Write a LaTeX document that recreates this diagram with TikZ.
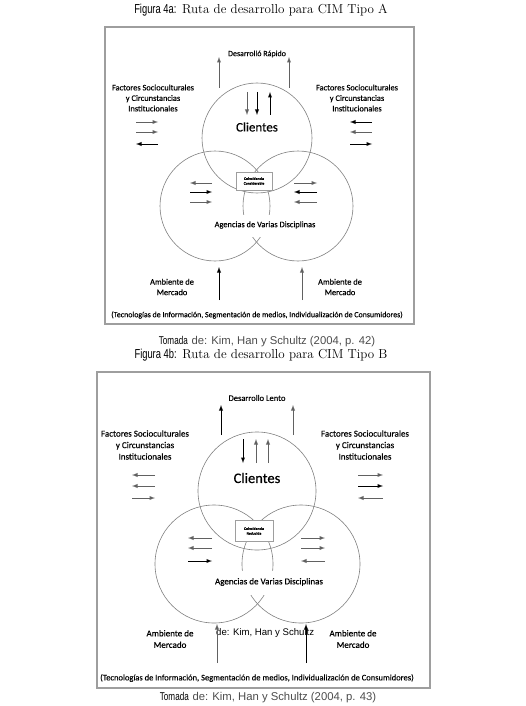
\documentclass[tikz,border=0pt]{standalone}
\usepackage{fontspec}
\usepackage{tikz}
\usetikzlibrary{arrows}
\newfontfamily\calfont{Carlito}[FakeBold=0.35]
\newfontfamily\narrowfont{Liberation Sans}[FakeStretch=0.72]
\newfontfamily\arialfont{Liberation Sans}
\definecolor{ringgray}{gray}{0.5}
\definecolor{framegray}{gray}{0.62}
\definecolor{arrgray}{gray}{0.38}
\definecolor{srcgray}{gray}{0.3}

\begin{document}
\begin{tikzpicture}[x=1pt,y=-1pt,
  ring/.style={draw=ringgray,line width=0.6pt},
  frame/.style={draw=framegray,line width=1.1pt},
  darrow/.style={line width=0.9pt,-latex},
  garrow/.style={line width=0.9pt,-latex,arrgray},
  lbl/.style={font=\calfont\fontsize{8.4}{10.5}\selectfont,align=center,inner sep=0pt},
  lblb/.style={font=\calfont\fontsize{9}{11.5}\selectfont,align=center,inner sep=0pt},
  coinc/.style={draw=framegray,fill=white,line width=0.7pt,align=center,inner sep=0pt,
    font=\calfont\bfseries\fontsize{3.8}{4.8}\selectfont}]
\useasboundingbox (0,0) rectangle (525,706);
%%%%%%%%%%%%%%%%%%%% Figura 4a
\node[font=\fontsize{13}{15}\selectfont] (titA) at (261,10) {{\narrowfont Figura 4a:} Ruta de desarrollo para CIM Tipo A};
% frame
\draw[frame] (105,27) rectangle (414,324);
% circles
\draw[ring] (257,138) circle[radius=55pt];
\draw[ring] (215,206) circle[radius=55pt];
\draw[ring] (298,206) circle[radius=55pt];
\fill[white] (195,215) rectangle (322,237);
% labels
\node[lbl,font=\calfont\fontsize{8}{10}\selectfont] (desA) at (257,54) {Desarroll\'o R\'apido};
\node[lbl,font=\calfont\fontsize{13}{15}\selectfont] (cliA) at (257,127) {Clientes};
\node[lbl] (facLA) at (153,98) {Factores Socioculturales\\y Circunstancias\\Institucionales};
\node[lbl] (facRA) at (357,98) {Factores Socioculturales\\y Circunstancias\\Institucionales};
\node[coinc,minimum width=36pt,minimum height=18pt] (coiA) at (254,181) {Coincidencia\\Considerable};
\node[lbl] (ageA) at (265,225) {Agencias de Varias Disciplinas};
\node[lbl] (ambLA) at (172,287) {Ambiente de\\Mercado};
\node[lbl] (ambRA) at (340,287) {Ambiente de\\Mercado};
\node[lbl,font=\calfont\fontsize{7.9}{9}\selectfont] (tecA) at (257,315) {(Tecnolog\'ias de Informaci\'on, Segmentaci\'on de medios, Individualizaci\'on de Consumidores)};
% top arrows
\draw[garrow] (219,88) to (219,57);
\draw[garrow] (289,88) to (289,57);
\draw[garrow] (247,92) to (247,115);
\draw[darrow] (257,92) to (257,115);
\draw[darrow] (270,115) to (270,92);
% outside arrows
\draw[garrow] (136,122) to (158,122);
\draw[garrow] (136,132) to (158,132);
\draw[darrow] (158,144) to (136,144);
\draw[darrow] (372,122) to (350,122);
\draw[garrow] (372,132) to (350,132);
\draw[darrow] (350,144) to (372,144);
% inside arrows
\draw[garrow] (212,183) to (190,183);
\draw[darrow] (190,192) to (212,192);
\draw[garrow] (190,202) to (212,202);
\draw[garrow] (294,183) to (317,183);
\draw[darrow] (317,192) to (294,192);
\draw[garrow] (317,202) to (294,202);
% bottom arrows
\draw[darrow] (219,300) to (219,267);
\draw[garrow] (302,300) to (302,267);
\node[font=\fontsize{11.3}{13}\selectfont] (srcA) at (267,342) {{\narrowfont Tomada} {\arialfont\color{srcgray}de: Kim, Han y Schultz (2004, p. 42)}};
%%%%%%%%%%%%%%%%%%%% Figura 4b
\node[font=\fontsize{13}{15}\selectfont] (titB) at (261,355) {{\narrowfont Figura 4b:} Ruta de desarrollo para CIM Tipo B};
% frame
\draw[frame] (97,372) rectangle (430,688);
% circles
\draw[ring] (257,491) circle[radius=59pt];
\draw[ring] (214,564) circle[radius=59pt];
\draw[ring] (301,564) circle[radius=59pt];
\fill[white] (196,571) rectangle (323,595);
% labels
\node[lblb,font=\calfont\fontsize{8.5}{10}\selectfont] (desB) at (257,398) {Desarrollo Lento};
\node[lbl,font=\calfont\fontsize{14.5}{16}\selectfont] (cliB) at (257,478) {Clientes};
\node[lblb] (facLB) at (145,445) {Factores Socioculturales\\y Circunstancias\\Institucionales};
\node[lblb] (facRB) at (365,445) {Factores Socioculturales\\y Circunstancias\\Institucionales};
\node[coinc,minimum width=38pt,minimum height=21pt] (coiB) at (254,531) {Coincidencia\\Reducida};
\node[lblb] (ageB) at (269,582) {Agencias de Varias Disciplinas};
\node[font=\arialfont\fontsize{9.6}{11}\selectfont,anchor=west,inner sep=0pt] (strB) at (216,633) {de: Kim, Han y Schultz};
\node[lblb] (ambLB) at (170,639) {Ambiente de\\Mercado};
\node[lblb] (ambRB) at (353,639) {Ambiente de\\Mercado};
\node[lbl,font=\calfont\fontsize{8.5}{10}\selectfont] (tecB) at (257,678) {(Tecnolog\'ias de Informaci\'on, Segmentaci\'on de medios, Individualizaci\'on de Consumidores)};
% top arrows
\draw[darrow] (221,435) to (221,405);
\draw[garrow] (293,435) to (293,405);
\draw[darrow] (243,439) to (243,463);
\draw[garrow] (256,463) to (256,439);
\draw[garrow] (268,463) to (268,439);
% outside arrows
\draw[garrow] (155,475) to (132,475);
\draw[garrow] (155,486) to (132,486);
\draw[garrow] (132,498) to (155,498);
\draw[garrow] (358,475) to (383,475);
\draw[darrow] (358,486) to (383,486);
\draw[garrow] (383,498) to (358,498);
% inside arrows
\draw[garrow] (212,538) to (188,538);
\draw[garrow] (212,548) to (188,548);
\draw[darrow] (188,561) to (212,561);
\draw[garrow] (301,538) to (325,538);
\draw[garrow] (301,548) to (325,548);
\draw[garrow] (325,561) to (301,561);
% bottom arrows
\draw[garrow] (217,663) to (217,624);
\draw[darrow] (306,663) to (306,624);
\node[font=\fontsize{11.3}{13}\selectfont] (srcB) at (268,698) {{\narrowfont Tomada} {\arialfont\color{srcgray}de: Kim, Han y Schultz (2004, p. 43)}};
\end{tikzpicture}
\end{document}
